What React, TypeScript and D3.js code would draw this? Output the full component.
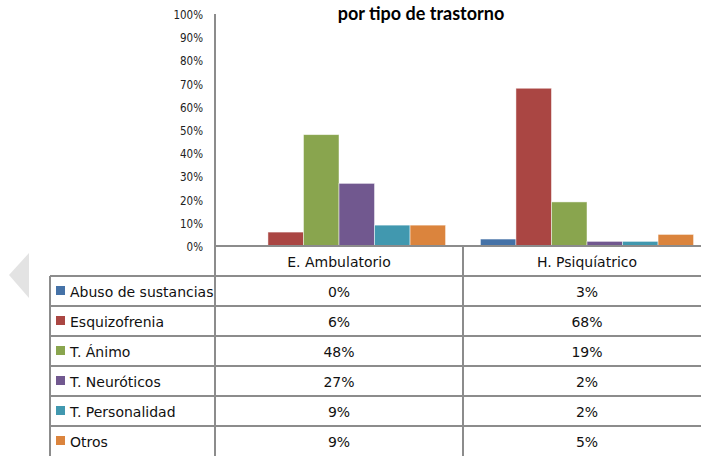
import React from 'react';
import * as d3 from 'd3';

const title = 'por tipo de trastorno';
const categories = ['E. Ambulatorio', 'H. Psiquíatrico'];
const series = ['Abuso de sustancias', 'Esquizofrenia', 'T. Ánimo', 'T. Neuróticos', 'T. Personalidad', 'Otros'];
const ambulatorio = [0, 6, 48, 27, 9, 9];
const psiquiatrico = [3, 68, 19, 2, 2, 5];
const colors = ['#4572a7', '#aa4643', '#89a54e', '#71588f', '#4198af', '#db843d'];
const yTicks = [0, 10, 20, 30, 40, 50, 60, 70, 80, 90, 100];

const W = 701;
const H = 456;
const grid = '#8c8c8c';

const App = () => {
  const values = [ambulatorio, psiquiatrico];

  const x0 = d3.scaleBand().domain(categories).range([215, 711]);
  const x1 = d3.scaleBand().domain(series).range([0, x0.bandwidth()]).paddingOuter(0.49);
  const y = d3.scaleLinear().domain([0, 100]).range([246, 14]);

  const rowY = d3.scaleBand().domain(['header', ...series]).range([246, 246 + 7 * 30]);
  const tableLeft = 50;

  return (
    <svg width={W} height={H} style={{ position: 'absolute', left: 0, top: 0 }}>
      <rect width={W} height={H} fill="#fff" />
      {/* leftover slider arrow */}
      <polygon points="29,253 9,275 29,298" fill="#e3e3e3" />

      <text x={421} y={20} textAnchor="middle" fontFamily="Lato" fontWeight="bold" fontSize={18}>
        {title}
      </text>

      {yTicks.map(t => (
        <text key={t} x={203} y={y(t) + 1} dy="0.35em" textAnchor="end"
          fontFamily="DejaVu Sans Condensed" fontSize={11.5} fill="#222">
          {t}%
        </text>
      ))}

      {categories.map((c, ci) => (
        <g key={c} transform={`translate(${x0(c)},0)`}>
          {series.map((s, si) => (
            <rect key={s} x={x1(s)} y={y(values[ci][si])}
              width={x1.bandwidth()} height={y(0) - y(values[ci][si])}
              fill={colors[si]} stroke="#fff" strokeOpacity={0.6} strokeWidth={0.8} />
          ))}
        </g>
      ))}

      {/* table grid */}
      <g stroke={grid} strokeWidth={2} fill="none">
        <line x1={215} x2={W} y1={246} y2={246} />
        {series.map(s => (
          <line key={s} x1={tableLeft} x2={W} y1={rowY(s)} y2={rowY(s)} />
        ))}
        <line x1={215} x2={215} y1={14} y2={H} />
        <line x1={tableLeft} x2={tableLeft} y1={rowY(series[0])} y2={H} />
        <line x1={x0(categories[1])} x2={x0(categories[1])} y1={246} y2={H} />
      </g>

      <g fontFamily="DejaVu Sans" fontSize={14} fill="#111">
        {categories.map(c => (
          <text key={c} x={x0(c) + x0.bandwidth() / 2} y={rowY('header') + 21} textAnchor="middle">{c}</text>
        ))}
        {series.map((s, si) => (
          <g key={s}>
            <rect x={56} y={rowY(s) + 10} width={9} height={9} fill={colors[si]} />
            <text x={70} y={rowY(s) + 21}>{s}</text>
            {categories.map((c, ci) => (
              <text key={c} x={x0(c) + x0.bandwidth() / 2} y={rowY(s) + 21} textAnchor="middle">
                {values[ci][si]}%
              </text>
            ))}
          </g>
        ))}
      </g>
    </svg>
  );
};

export default App;
